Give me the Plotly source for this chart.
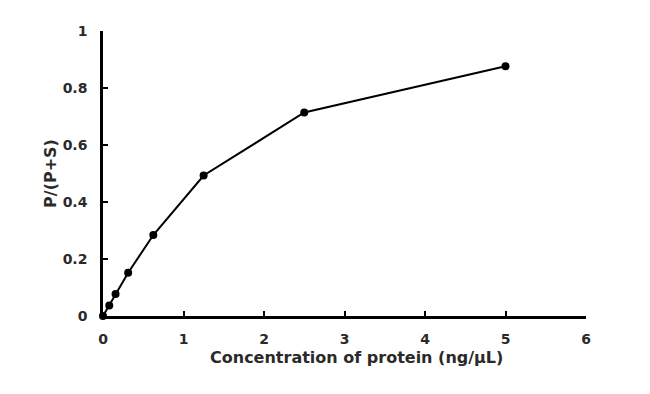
import plotly.graph_objects as go

conc = [0, 0.078, 0.156, 0.3125, 0.625, 1.25, 2.5, 5]
ratio = [0.0, 0.037, 0.077, 0.152, 0.284, 0.493, 0.714, 0.876]
x_ticks = [0, 1, 2, 3, 4, 5, 6]
y_ticks = [0, 0.2, 0.4, 0.6, 0.8, 1]
y_tick_text = ["0", "0.2", "0.4", "0.6", "0.8", "1"]
x_title = "Concentration of protein (ng/μL)"
y_title = "P/(P+S)"

FAM = "DejaVu Sans, Arial, sans-serif"
TXT = "#2a2a2a"

fig = go.Figure()
fig.add_trace(go.Scatter(
    x=conc, y=ratio, mode="lines+markers",
    line=dict(color="black", width=2),
    marker=dict(color="black", size=8),
    cliponaxis=False,
))

fig.update_layout(
    width=650, height=394,
    margin=dict(l=103, r=64, t=31, b=78),
    paper_bgcolor="white", plot_bgcolor="white",
    showlegend=False,
    font=dict(family=FAM, size=14, color=TXT),
    xaxis=dict(
        range=[0, 6], tickvals=x_ticks, ticks="inside", ticklen=5, tickwidth=2,
        tickcolor="black", showline=True, linecolor="black", linewidth=2.5,
        showgrid=False, zeroline=False, ticklabelstandoff=8,
        tickfont=dict(family=FAM, size=14, color=TXT, weight="bold"),
    ),
    yaxis=dict(
        range=[0, 1], tickvals=y_ticks, ticktext=y_tick_text, ticks="inside", ticklen=5, tickwidth=2,
        tickcolor="black", showline=True, linecolor="black", linewidth=2.5,
        showgrid=False, zeroline=False, ticklabelstandoff=10,
        tickfont=dict(family=FAM, size=14, color=TXT, weight="bold"),
        title=dict(text="<b>" + y_title + "</b>", standoff=3,
                   font=dict(family=FAM, size=16, color=TXT)),
    ),
    annotations=[dict(
        text="<b>" + x_title + "</b>", xref="paper", yref="paper",
        x=0.524, y=0, yshift=-41, xanchor="center", yanchor="middle",
        showarrow=False, font=dict(family=FAM, size=16, color=TXT),
    )],
)
fig.write_html("out.html")
